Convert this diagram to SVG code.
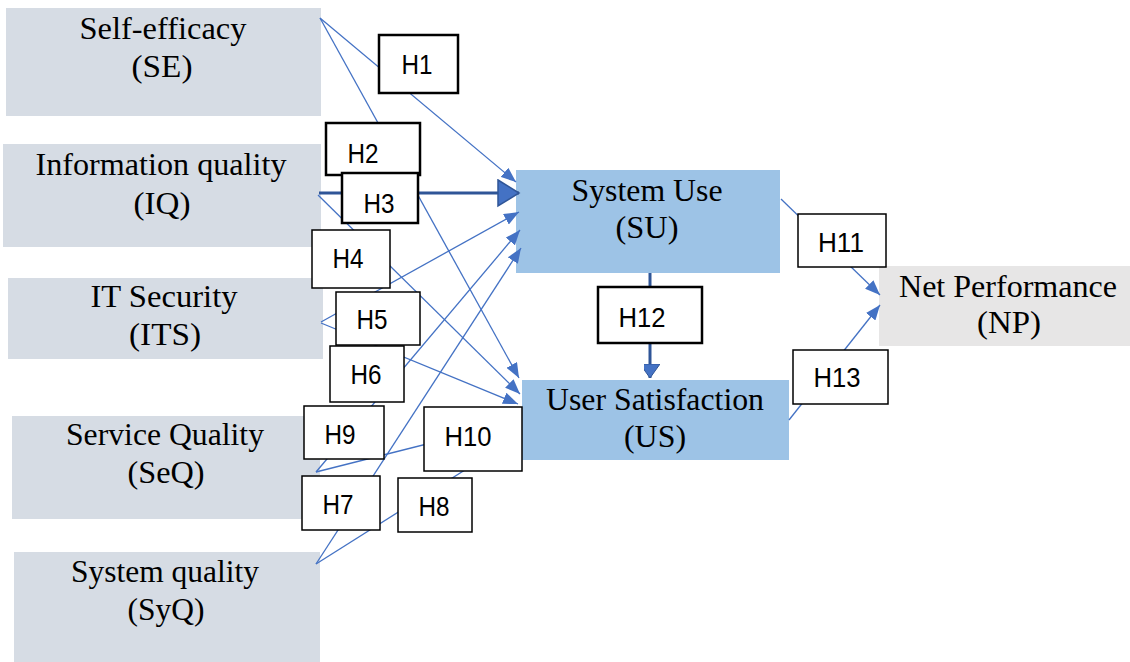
<svg xmlns="http://www.w3.org/2000/svg" width="1130" height="662" viewBox="0 0 1130 662">
<style>
.src{fill:#D6DCE4}
.mid{fill:#9DC3E6}
.np{fill:#E7E6E6}
.lbl{font-family:"Liberation Serif","Times New Roman",serif;font-size:31px;fill:#000;text-anchor:middle}
.hb{fill:#fff;stroke:#000;stroke-width:1.5}
.hbk{fill:#fff;stroke:#000;stroke-width:2.5}
.ht{font-family:"Liberation Sans",Arial,sans-serif;font-size:28px;fill:#000;text-anchor:middle}
.c{stroke:#4472C4;stroke-width:1.3;fill:none;marker-end:url(#ah)}
.ck{stroke:#2F5597;stroke-width:3;fill:none}
</style>
<defs>
<marker id="ah" markerUnits="userSpaceOnUse" markerWidth="16" markerHeight="12" refX="15" refY="6" orient="auto">
<path d="M0,0 L15,6 L0,12 Z" fill="#4472C4"/>
</marker>
<marker id="big" markerUnits="userSpaceOnUse" markerWidth="24" markerHeight="30" refX="22" refY="14" orient="auto">
<path d="M1,1 L22,14 L1,27 Z" fill="#4472C4" stroke="#2F5597" stroke-width="1.5"/>
</marker>
<marker id="mid" markerUnits="userSpaceOnUse" markerWidth="22" markerHeight="16" refX="14" refY="10" orient="auto">
<path d="M0,0 L14,10 L0,20 Z" fill="#4472C4" stroke="#2F5597" stroke-width="1"/>
</marker>
</defs>

<g id="SE"><rect class="src" x="6" y="8" width="315" height="108"/><text class="lbl" x="163" y="39" textLength="167" lengthAdjust="spacingAndGlyphs">Self-efficacy</text><text class="lbl" x="162" y="77" textLength="61" lengthAdjust="spacingAndGlyphs">(SE)</text></g>
<g id="IQ"><rect class="src" x="3" y="144" width="318" height="103"/><text class="lbl" x="161" y="175" textLength="251" lengthAdjust="spacingAndGlyphs">Information quality</text><text class="lbl" x="162" y="214" textLength="57" lengthAdjust="spacingAndGlyphs">(IQ)</text></g>
<g id="ITS"><rect class="src" x="8" y="278" width="315" height="81"/><text class="lbl" x="164" y="307" textLength="147" lengthAdjust="spacingAndGlyphs">IT Security</text><text class="lbl" x="165" y="345" textLength="72" lengthAdjust="spacingAndGlyphs">(ITS)</text></g>
<g id="SeQ"><rect class="src" x="12" y="416" width="308" height="103"/><text class="lbl" x="165" y="445" textLength="198" lengthAdjust="spacingAndGlyphs">Service Quality</text><text class="lbl" x="166" y="483" textLength="77" lengthAdjust="spacingAndGlyphs">(SeQ)</text></g>
<g id="SyQ"><rect class="src" x="14" y="552" width="306" height="110"/><text class="lbl" x="165" y="582" textLength="188" lengthAdjust="spacingAndGlyphs">System quality</text><text class="lbl" x="166" y="620" textLength="77" lengthAdjust="spacingAndGlyphs">(SyQ)</text></g>
<g id="SU"><rect class="mid" x="516" y="170" width="264" height="103"/><text class="lbl" x="647" y="201" textLength="151" lengthAdjust="spacingAndGlyphs">System Use</text><text class="lbl" x="647" y="238" textLength="63" lengthAdjust="spacingAndGlyphs">(SU)</text></g>
<g id="US"><rect class="mid" x="522" y="380" width="267" height="80"/><text class="lbl" x="655" y="410" textLength="218" lengthAdjust="spacingAndGlyphs">User Satisfaction</text><text class="lbl" x="655" y="447" textLength="62" lengthAdjust="spacingAndGlyphs">(US)</text></g>
<g id="NP"><rect class="np" x="879" y="266" width="251" height="80"/><text class="lbl" x="1008" y="297" textLength="218" lengthAdjust="spacingAndGlyphs">Net Performance</text><text class="lbl" x="1009" y="333" textLength="64" lengthAdjust="spacingAndGlyphs">(NP)</text></g>

<g id="connectors">
<line class="c" x1="320" y1="18" x2="516" y2="182"/>
<line class="c" x1="320" y1="18" x2="519" y2="378"/>
<line class="ck" x1="319" y1="193" x2="519" y2="193" style="marker-end:url(#big)"/>
<line class="c" x1="318" y1="195" x2="520" y2="394"/>
<line class="c" x1="321" y1="322" x2="519" y2="212"/>
<line class="c" x1="321" y1="323" x2="518" y2="404"/>
<line class="c" x1="316" y1="564" x2="521" y2="248"/>
<line class="c" x1="316" y1="564" x2="522" y2="434"/>
<line class="c" x1="316" y1="472" x2="520" y2="230"/>
<line class="c" x1="316" y1="472" x2="522" y2="420"/>
<line class="c" x1="781" y1="199" x2="880" y2="295"/>
<line class="ck" x1="650" y1="273" x2="650" y2="378" style="marker-end:url(#mid)"/>
<line class="c" x1="789" y1="420" x2="880" y2="305"/>
</g>

<g id="H1"><rect class="hbk" x="379" y="35" width="79" height="58"/><text class="ht" x="417" y="74" textLength="31" lengthAdjust="spacingAndGlyphs">H1</text></g>
<g id="H2"><rect class="hbk" x="326" y="123" width="94" height="52"/><text class="ht" x="363" y="163" textLength="31" lengthAdjust="spacingAndGlyphs">H2</text></g>
<g id="H3"><rect class="hbk" x="342" y="173" width="76" height="50"/><text class="ht" x="379" y="213" textLength="31" lengthAdjust="spacingAndGlyphs">H3</text></g>
<g id="H4"><rect class="hb" x="312" y="230" width="78" height="58"/><text class="ht" x="348" y="268" textLength="31" lengthAdjust="spacingAndGlyphs">H4</text></g>
<g id="H5"><rect class="hb" x="336" y="292" width="84" height="53"/><text class="ht" x="372" y="329" textLength="31" lengthAdjust="spacingAndGlyphs">H5</text></g>
<g id="H6"><rect class="hb" x="330" y="346" width="74" height="56"/><text class="ht" x="366" y="384" textLength="31" lengthAdjust="spacingAndGlyphs">H6</text></g>
<g id="H9"><rect class="hb" x="304" y="406" width="80" height="53"/><text class="ht" x="340" y="444" textLength="31" lengthAdjust="spacingAndGlyphs">H9</text></g>
<g id="H10"><rect class="hb" x="424" y="407" width="98" height="64"/><text class="ht" x="468" y="446" textLength="47" lengthAdjust="spacingAndGlyphs">H10</text></g>
<g id="H7"><rect class="hb" x="302" y="476" width="78" height="54"/><text class="ht" x="338" y="514" textLength="31" lengthAdjust="spacingAndGlyphs">H7</text></g>
<g id="H8"><rect class="hb" x="398" y="478" width="74" height="54"/><text class="ht" x="434" y="516" textLength="31" lengthAdjust="spacingAndGlyphs">H8</text></g>
<g id="H11"><rect class="hb" x="798" y="214" width="88" height="53"/><text class="ht" x="841" y="252" textLength="46" lengthAdjust="spacingAndGlyphs">H11</text></g>
<g id="H12"><rect class="hbk" x="598" y="287" width="104" height="56"/><text class="ht" x="642" y="327" textLength="47" lengthAdjust="spacingAndGlyphs">H12</text></g>
<g id="H13"><rect class="hb" x="793" y="350" width="95" height="54"/><text class="ht" x="837" y="387" textLength="47" lengthAdjust="spacingAndGlyphs">H13</text></g>
</svg>
